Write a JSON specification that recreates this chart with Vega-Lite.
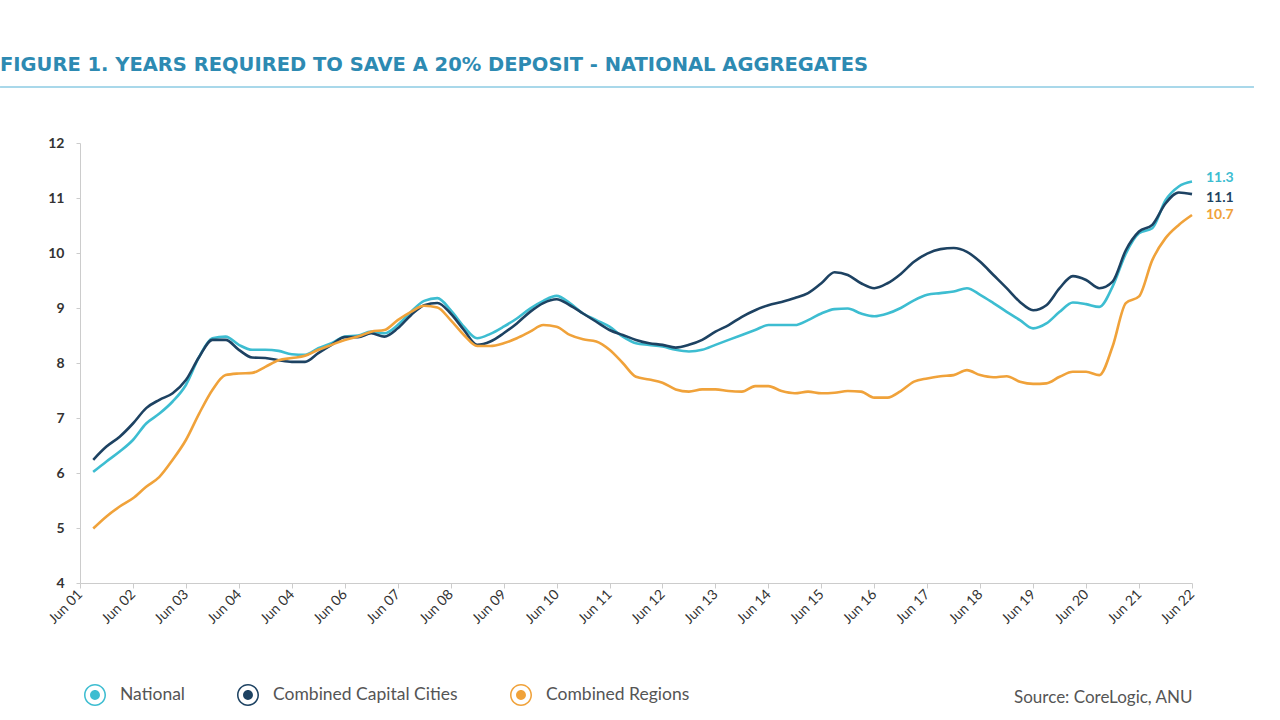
{
  "$schema": "https://vega.github.io/schema/vega-lite/v6.json",
  "width": 1112,
  "height": 440,
  "autosize": "none",
  "padding": {"left": 80, "top": 143, "right": 88, "bottom": 137},
  "background": "white",
  "config": {"view": {"stroke": null}, "font": "Lato"},
  "title": {
    "text": "FIGURE 1. YEARS REQUIRED TO SAVE A 20% DEPOSIT - NATIONAL AGGREGATES",
    "anchor": "start",
    "frame": "group",
    "dx": -80,
    "offset": 10,
    "fontSize": 19.5,
    "font": "DejaVu Sans",
    "fontWeight": "bold",
    "color": "#2d8ab2"
  },
  "datasets": {
    "d": [
      {"t": 0.25, "National": 6.02, "Combined Capital Cities": 6.24, "Combined Regions": 4.99},
      {"t": 0.5, "National": 6.21, "Combined Capital Cities": 6.48, "Combined Regions": 5.21},
      {"t": 0.75, "National": 6.39, "Combined Capital Cities": 6.66, "Combined Regions": 5.39},
      {"t": 1, "National": 6.6, "Combined Capital Cities": 6.9, "Combined Regions": 5.54},
      {"t": 1.25, "National": 6.9, "Combined Capital Cities": 7.18, "Combined Regions": 5.75},
      {"t": 1.5, "National": 7.08, "Combined Capital Cities": 7.33, "Combined Regions": 5.93},
      {"t": 1.75, "National": 7.3, "Combined Capital Cities": 7.45, "Combined Regions": 6.24},
      {"t": 2, "National": 7.6, "Combined Capital Cities": 7.69, "Combined Regions": 6.6},
      {"t": 2.25, "National": 8.11, "Combined Capital Cities": 8.11, "Combined Regions": 7.08},
      {"t": 2.5, "National": 8.45, "Combined Capital Cities": 8.42, "Combined Regions": 7.51},
      {"t": 2.75, "National": 8.48, "Combined Capital Cities": 8.42, "Combined Regions": 7.78},
      {"t": 3, "National": 8.33, "Combined Capital Cities": 8.24, "Combined Regions": 7.81},
      {"t": 3.25, "National": 8.24, "Combined Capital Cities": 8.1, "Combined Regions": 7.82},
      {"t": 3.5, "National": 8.24, "Combined Capital Cities": 8.09, "Combined Regions": 7.93},
      {"t": 3.75, "National": 8.22, "Combined Capital Cities": 8.05, "Combined Regions": 8.05},
      {"t": 4, "National": 8.16, "Combined Capital Cities": 8.02, "Combined Regions": 8.09},
      {"t": 4.25, "National": 8.15, "Combined Capital Cities": 8.02, "Combined Regions": 8.13},
      {"t": 4.5, "National": 8.27, "Combined Capital Cities": 8.18, "Combined Regions": 8.24},
      {"t": 4.75, "National": 8.36, "Combined Capital Cities": 8.33, "Combined Regions": 8.33},
      {"t": 5, "National": 8.48, "Combined Capital Cities": 8.47, "Combined Regions": 8.42},
      {"t": 5.25, "National": 8.5, "Combined Capital Cities": 8.47, "Combined Regions": 8.48},
      {"t": 5.5, "National": 8.57, "Combined Capital Cities": 8.54, "Combined Regions": 8.57},
      {"t": 5.75, "National": 8.54, "Combined Capital Cities": 8.48, "Combined Regions": 8.6},
      {"t": 6, "National": 8.69, "Combined Capital Cities": 8.63, "Combined Regions": 8.78},
      {"t": 6.25, "National": 8.93, "Combined Capital Cities": 8.87, "Combined Regions": 8.93},
      {"t": 6.5, "National": 9.13, "Combined Capital Cities": 9.05, "Combined Regions": 9.04},
      {"t": 6.75, "National": 9.18, "Combined Capital Cities": 9.09, "Combined Regions": 9.01},
      {"t": 7, "National": 8.96, "Combined Capital Cities": 8.9, "Combined Regions": 8.78},
      {"t": 7.25, "National": 8.66, "Combined Capital Cities": 8.6, "Combined Regions": 8.51},
      {"t": 7.5, "National": 8.45, "Combined Capital Cities": 8.33, "Combined Regions": 8.31},
      {"t": 7.75, "National": 8.53, "Combined Capital Cities": 8.39, "Combined Regions": 8.31},
      {"t": 8, "National": 8.66, "Combined Capital Cities": 8.54, "Combined Regions": 8.36},
      {"t": 8.25, "National": 8.81, "Combined Capital Cities": 8.72, "Combined Regions": 8.45},
      {"t": 8.5, "National": 8.99, "Combined Capital Cities": 8.93, "Combined Regions": 8.57},
      {"t": 8.75, "National": 9.13, "Combined Capital Cities": 9.09, "Combined Regions": 8.69},
      {"t": 9, "National": 9.22, "Combined Capital Cities": 9.16, "Combined Regions": 8.66},
      {"t": 9.25, "National": 9.09, "Combined Capital Cities": 9.05, "Combined Regions": 8.51},
      {"t": 9.5, "National": 8.9, "Combined Capital Cities": 8.9, "Combined Regions": 8.43},
      {"t": 9.75, "National": 8.78, "Combined Capital Cities": 8.75, "Combined Regions": 8.39},
      {"t": 10, "National": 8.66, "Combined Capital Cities": 8.6, "Combined Regions": 8.24},
      {"t": 10.25, "National": 8.48, "Combined Capital Cities": 8.51, "Combined Regions": 8.0},
      {"t": 10.5, "National": 8.36, "Combined Capital Cities": 8.42, "Combined Regions": 7.75},
      {"t": 10.75, "National": 8.33, "Combined Capital Cities": 8.36, "Combined Regions": 7.7},
      {"t": 11, "National": 8.3, "Combined Capital Cities": 8.33, "Combined Regions": 7.64},
      {"t": 11.25, "National": 8.24, "Combined Capital Cities": 8.28, "Combined Regions": 7.52},
      {"t": 11.5, "National": 8.21, "Combined Capital Cities": 8.33, "Combined Regions": 7.48},
      {"t": 11.75, "National": 8.24, "Combined Capital Cities": 8.42, "Combined Regions": 7.52},
      {"t": 12, "National": 8.33, "Combined Capital Cities": 8.57, "Combined Regions": 7.52},
      {"t": 12.25, "National": 8.42, "Combined Capital Cities": 8.69, "Combined Regions": 7.49},
      {"t": 12.5, "National": 8.51, "Combined Capital Cities": 8.84, "Combined Regions": 7.48},
      {"t": 12.75, "National": 8.6, "Combined Capital Cities": 8.96, "Combined Regions": 7.58},
      {"t": 13, "National": 8.69, "Combined Capital Cities": 9.05, "Combined Regions": 7.58},
      {"t": 13.25, "National": 8.69, "Combined Capital Cities": 9.11, "Combined Regions": 7.49},
      {"t": 13.5, "National": 8.69, "Combined Capital Cities": 9.18, "Combined Regions": 7.45},
      {"t": 13.75, "National": 8.78, "Combined Capital Cities": 9.27, "Combined Regions": 7.48},
      {"t": 14, "National": 8.9, "Combined Capital Cities": 9.45, "Combined Regions": 7.45},
      {"t": 14.25, "National": 8.98, "Combined Capital Cities": 9.65, "Combined Regions": 7.46},
      {"t": 14.5, "National": 8.99, "Combined Capital Cities": 9.6, "Combined Regions": 7.49},
      {"t": 14.75, "National": 8.9, "Combined Capital Cities": 9.45, "Combined Regions": 7.48},
      {"t": 15, "National": 8.85, "Combined Capital Cities": 9.36, "Combined Regions": 7.37},
      {"t": 15.25, "National": 8.9, "Combined Capital Cities": 9.45, "Combined Regions": 7.37},
      {"t": 15.5, "National": 9.0, "Combined Capital Cities": 9.62, "Combined Regions": 7.49},
      {"t": 15.75, "National": 9.14, "Combined Capital Cities": 9.84, "Combined Regions": 7.66},
      {"t": 16, "National": 9.24, "Combined Capital Cities": 9.99, "Combined Regions": 7.72},
      {"t": 16.25, "National": 9.27, "Combined Capital Cities": 10.07, "Combined Regions": 7.76},
      {"t": 16.5, "National": 9.3, "Combined Capital Cities": 10.09, "Combined Regions": 7.78},
      {"t": 16.75, "National": 9.36, "Combined Capital Cities": 10.02, "Combined Regions": 7.87},
      {"t": 17, "National": 9.24, "Combined Capital Cities": 9.84, "Combined Regions": 7.78},
      {"t": 17.25, "National": 9.09, "Combined Capital Cities": 9.6, "Combined Regions": 7.74},
      {"t": 17.5, "National": 8.93, "Combined Capital Cities": 9.36, "Combined Regions": 7.76},
      {"t": 17.75, "National": 8.78, "Combined Capital Cities": 9.11, "Combined Regions": 7.66},
      {"t": 18, "National": 8.63, "Combined Capital Cities": 8.96, "Combined Regions": 7.62},
      {"t": 18.25, "National": 8.72, "Combined Capital Cities": 9.05, "Combined Regions": 7.63},
      {"t": 18.5, "National": 8.93, "Combined Capital Cities": 9.36, "Combined Regions": 7.75},
      {"t": 18.75, "National": 9.1, "Combined Capital Cities": 9.58, "Combined Regions": 7.84},
      {"t": 19, "National": 9.07, "Combined Capital Cities": 9.51, "Combined Regions": 7.84},
      {"t": 19.25, "National": 9.02, "Combined Capital Cities": 9.36, "Combined Regions": 7.78},
      {"t": 19.5, "National": 9.39, "Combined Capital Cities": 9.48, "Combined Regions": 8.3},
      {"t": 19.75, "National": 9.99, "Combined Capital Cities": 10.05, "Combined Regions": 9.09},
      {"t": 20, "National": 10.36, "Combined Capital Cities": 10.39, "Combined Regions": 9.21},
      {"t": 20.25, "National": 10.45, "Combined Capital Cities": 10.51, "Combined Regions": 9.87},
      {"t": 20.5, "National": 10.96, "Combined Capital Cities": 10.9, "Combined Regions": 10.27},
      {"t": 20.75, "National": 11.21, "Combined Capital Cities": 11.1, "Combined Regions": 10.51},
      {"t": 21, "National": 11.3, "Combined Capital Cities": 11.07, "Combined Regions": 10.69}
    ],
    "one": [{}]
  },
  "layer": [
    {
      "data": {"name": "one"},
      "mark": {"type": "rule", "color": "#a9d8ea", "strokeWidth": 2},
      "encoding": {
        "x": {"datum": -1.51, "type": "quantitative"},
        "x2": {"datum": 22.17},
        "y": {"datum": 13.02, "type": "quantitative"}
      }
    },
    {
      "data": {"name": "d"},
      "transform": [{"fold": ["National", "Combined Capital Cities", "Combined Regions"], "as": ["series", "v"]}],
      "mark": {"type": "line", "strokeWidth": 2.6, "interpolate": "monotone"},
      "encoding": {
        "x": {
          "field": "t",
          "type": "quantitative",
          "scale": {"domain": [0, 21], "nice": false, "zero": false},
          "axis": {
            "values": [0, 1, 2, 3, 4, 5, 6, 7, 8, 9, 10, 11, 12, 13, 14, 15, 16, 17, 18, 19, 20, 21],
            "labelExpr": "['Jun 01','Jun 02','Jun 03','Jun 04','Jun 04','Jun 06','Jun 07','Jun 08','Jun 09','Jun 10','Jun 11','Jun 12','Jun 13','Jun 14','Jun 15','Jun 16','Jun 17','Jun 18','Jun 19','Jun 20','Jun 21','Jun 22'][datum.value]",
            "labelAngle": -45,
            "labelAlign": "right",
            "labelBaseline": "middle",
            "labelFontSize": 14,
            "labelColor": "#333333",
            "labelFont": "Lato",
            "labelPadding": 4,
            "labelOverlap": false,
            "domainColor": "#cccccc",
            "tickColor": "#cccccc",
            "tickSize": 5,
            "grid": false,
            "title": "Source: CoreLogic, ANU",
            "titleAnchor": "end",
            "titleAlign": "right",
            "titleFontSize": 17,
            "titleFontWeight": "normal",
            "titleFont": "Lato",
            "titleColor": "#555555",
            "titleY": 114,
            "titleBaseline": "middle"
          }
        },
        "y": {
          "field": "v",
          "type": "quantitative",
          "scale": {"domain": [4, 12], "nice": false, "zero": false},
          "axis": {
            "values": [4, 5, 6, 7, 8, 9, 10, 11, 12],
            "labelFontSize": 14,
            "labelColor": "#333333",
            "labelFont": "Lato",
            "labelFontWeight": "bold",
            "labelPadding": 12,
            "domainColor": "#cccccc",
            "tickColor": "#cccccc",
            "tickSize": 4,
            "grid": false,
            "title": null
          }
        },
        "color": {
          "field": "series",
          "type": "nominal",
          "scale": {
            "domain": ["National", "Combined Capital Cities", "Combined Regions"],
            "range": ["#3dbdd1", "#1d4262", "#f0a23a"]
          },
          "legend": {
            "orient": "none",
            "legendX": 4,
            "legendY": 541,
            "direction": "horizontal",
            "title": null,
            "padding": 0,
            "symbolType": "M-1,0A1,1,0,1,0,1,0A1,1,0,1,0,-1,0Z M-0.86,0A0.86,0.86,0,1,1,0.86,0A0.86,0.86,0,1,1,-0.86,0Z M-0.45,0A0.45,0.45,0,1,0,0.45,0A0.45,0.45,0,1,0,-0.45,0Z",
            "symbolSize": 484,
            "symbolStrokeWidth": 0,
            "labelFontSize": 17.5,
            "labelFont": "Lato",
            "labelColor": "#555555",
            "labelOffset": 14,
            "labelLimit": 0,
            "columnPadding": 52,
            "encode": {
              "symbols": {"update": {"fill": {"scale": "color", "field": "value"}, "fillOpacity": {"value": 1}, "strokeWidth": {"value": 0}}}
            }
          }
        }
      }
    },
    {
      "data": {"name": "d"},
      "transform": [{"fold": ["National"], "as": ["series", "v"]}, {"filter": "datum.t == 21"}],
      "mark": {"type": "text", "align": "left", "dx": 14, "dy": -4, "fontSize": 14, "fontWeight": "bold", "font": "Lato", "color": "#3dbdd1"},
      "encoding": {
        "x": {"field": "t", "type": "quantitative"},
        "y": {"field": "v", "type": "quantitative"},
        "text": {"field": "v", "type": "quantitative", "format": ".1f"}
      }
    },
    {
      "data": {"name": "d"},
      "transform": [{"fold": ["Combined Capital Cities"], "as": ["series", "v"]}, {"filter": "datum.t == 21"}],
      "mark": {"type": "text", "align": "left", "dx": 14, "dy": 4, "fontSize": 14, "fontWeight": "bold", "font": "Lato", "color": "#1d4262"},
      "encoding": {
        "x": {"field": "t", "type": "quantitative"},
        "y": {"field": "v", "type": "quantitative"},
        "text": {"field": "v", "type": "quantitative", "format": ".1f"}
      }
    },
    {
      "data": {"name": "d"},
      "transform": [{"fold": ["Combined Regions"], "as": ["series", "v"]}, {"filter": "datum.t == 21"}],
      "mark": {"type": "text", "align": "left", "dx": 14, "dy": 0, "fontSize": 14, "fontWeight": "bold", "font": "Lato", "color": "#f0a23a"},
      "encoding": {
        "x": {"field": "t", "type": "quantitative"},
        "y": {"field": "v", "type": "quantitative"},
        "text": {"field": "v", "type": "quantitative", "format": ".1f"}
      }
    }
  ]
}
